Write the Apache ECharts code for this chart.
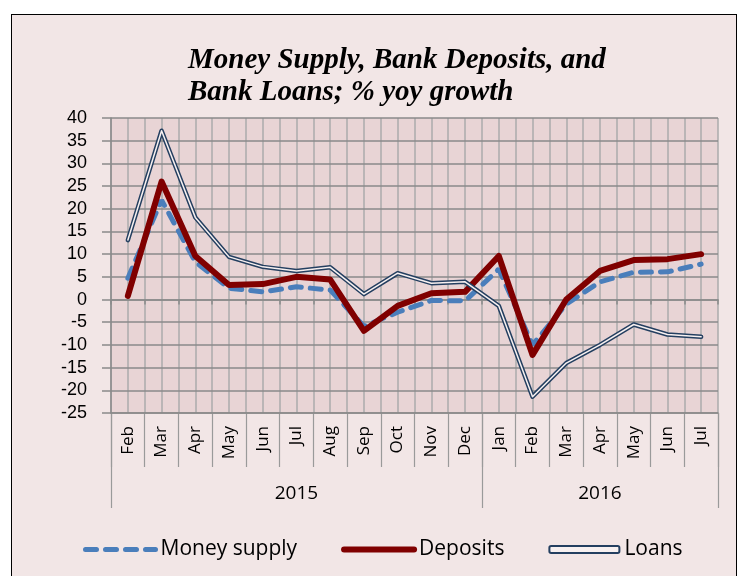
<!DOCTYPE html>
<html>
<head>
<meta charset="utf-8">
<script src="https://cdn.jsdelivr.net/npm/echarts@6/dist/echarts.min.js"></script>
<style>
html,body{margin:0;padding:0;background:#ffffff;overflow:hidden;}
#frame{position:absolute;left:11px;top:14px;width:726px;height:620px;background:#f2e6e6;border:1.5px solid #000;box-sizing:border-box;}
#chart{position:absolute;left:0;top:0;width:742px;height:576px;}
</style>
</head>
<body>
<div id="frame"></div>
<div id="chart"></div>
<script>
var titleText = 'Money Supply, Bank Deposits, and\nBank Loans; % yoy growth';
var months = ['Feb','Mar','Apr','May','Jun','Jul','Aug','Sep','Oct','Nov','Dec','Jan','Feb','Mar','Apr','May','Jun','Jul'];
var years = ['2015','2016'];
var yearSpans = [11, 7];
var moneySupply = [4.7, 21.9, 8.3, 2.5, 1.7, 2.8, 2.1, -5.9, -2.8, -0.2, -0.3, 6.7, -10.0, -1.0, 3.9, 6.0, 6.1, 7.8];
var deposits = [0.8, 26.0, 9.6, 3.2, 3.4, 5.0, 4.4, -6.9, -1.4, 1.4, 1.7, 9.6, -12.2, 0.0, 6.3, 8.7, 8.9, 10.0];
var loans = [13.1, 37.2, 18.1, 9.4, 7.2, 6.3, 7.1, 1.2, 5.8, 3.6, 3.9, -1.4, -21.4, -14.0, -10.0, -5.5, -7.7, -8.2];
var yMin = -25, yMax = 40, yStep = 5;

// year separator positions and label centres (in category units)
var yearBounds = [0];
var yearCentres = [];
yearSpans.forEach(function (s, i) {
  var start = yearBounds[yearBounds.length - 1];
  yearCentres.push(start + s / 2);
  yearBounds.push(start + s);
});
var nCat = months.length;

var chart = echarts.init(document.getElementById('chart'), null, {renderer: 'canvas'});
var gridColor = '#8a8a8a';
var vGridColor = '#ababab';
var option = {
  backgroundColor: 'transparent',
  animation: false,
  title: {
    text: titleText,
    left: 183,
    top: 40,
    textStyle: {
      fontFamily: 'Liberation Serif',
      fontStyle: 'italic',
      fontWeight: 'bold',
      fontSize: 29,
      lineHeight: 32,
      color: '#000'
    }
  },
  legend: {
    data: [
      {name: 'Money supply', itemStyle: {opacity: 0}, lineStyle: {width: 5, type: [11, 9], cap: 'round'}},
      {name: 'Deposits', itemStyle: {opacity: 0}, lineStyle: {width: 6, cap: 'round'}},
      {name: 'Loans', icon: 'roundRect', itemStyle: {color: '#f7f0f0', borderColor: '#243f60', borderWidth: 2}}
    ],
    left: 78,
    top: 534,
    itemWidth: 70,
    itemHeight: 7,
    itemGap: 44,
    textStyle: {fontFamily: 'Open Sans', fontSize: 21, color: '#000'}
  },
  grid: {
    left: 111, right: 24, top: 118, bottom: 163,
    show: true, backgroundColor: '#e8d4d5', borderWidth: 0
  },
  xAxis: [
    {
      // axis line at zero with boundary ticks
      type: 'category', data: months, position: 'bottom', boundaryGap: true,
      axisLine: {onZero: true, lineStyle: {color: gridColor, width: 1.5}},
      axisTick: {show: true, interval: 0, length: 5, lineStyle: {color: gridColor, width: 1.5}},
      axisLabel: {show: false},
      splitLine: {show: false},
      z: 5
    },
    {
      // month labels at bottom
      type: 'category', data: months, position: 'bottom', boundaryGap: true,
      axisLine: {show: true, onZero: false, lineStyle: {color: gridColor, width: 1.5}},
      axisTick: {show: true, interval: 0, length: 54, lineStyle: {color: '#9a9a9a', width: 1.2}},
      axisLabel: {show: true, interval: 0, rotate: 90, margin: 13, fontFamily: 'Open Sans', fontSize: 17, color: '#000'},
      splitLine: {show: false}
    },
    {
      // year row
      type: 'value', min: 0, max: nCat, position: 'bottom',
      axisLine: {show: false, onZero: false},
      axisTick: {show: true, customValues: yearBounds, length: 95, lineStyle: {color: '#9a9a9a', width: 1.2}},
      axisLabel: {
        show: true, customValues: yearCentres, margin: 71,
        fontFamily: 'Open Sans', fontSize: 19, color: '#000',
        formatter: function (v) {
          var i = yearCentres.indexOf(v);
          return i >= 0 ? years[i] : '';
        }
      },
      splitLine: {show: false}
    },
    {
      // vertical grid lines every half category
      type: 'value', min: 0, max: nCat * 2, interval: 1, position: 'top',
      axisLine: {show: false}, axisTick: {show: false}, axisLabel: {show: false},
      splitLine: {show: true, lineStyle: {color: vGridColor, width: 1.5}}
    }
  ],
  yAxis: {
    type: 'value', min: yMin, max: yMax, interval: yStep,
    axisLine: {show: true, onZero: false, lineStyle: {color: gridColor, width: 1.5}},
    axisTick: {show: true, length: 9, lineStyle: {color: gridColor, width: 1.5}},
    axisLabel: {fontFamily: 'Liberation Sans', fontSize: 18, color: '#000', margin: 24},
    splitLine: {show: true, lineStyle: {color: gridColor, width: 1.5}},
    z: 4
  },
  series: [
    {
      name: 'Money supply', type: 'line', data: moneySupply, xAxisIndex: 0,
      symbol: 'none', z: 10,
      lineStyle: {color: '#4a7ebb', width: 5, type: [11, 9], cap: 'round'},
      itemStyle: {color: '#4a7ebb'}
    },
    {
      name: 'Deposits', type: 'line', data: deposits, xAxisIndex: 0,
      symbol: 'none', z: 11,
      lineStyle: {color: '#800000', width: 6, cap: 'round', join: 'round'},
      itemStyle: {color: '#800000'}
    },
    {
      name: 'Loans', type: 'line', data: loans, xAxisIndex: 0,
      symbol: 'none', z: 12,
      lineStyle: {color: '#243f60', width: 4.5, cap: 'round', join: 'round'},
      itemStyle: {color: '#243f60'}
    },
    {
      name: 'Loans inner', type: 'line', data: loans, xAxisIndex: 0,
      symbol: 'none', z: 13,
      lineStyle: {color: '#f7f0f0', width: 1.5, cap: 'round', join: 'round'},
      itemStyle: {color: '#f7f0f0'}
    }
  ]
};
chart.setOption(option);
</script>
</body>
</html>
